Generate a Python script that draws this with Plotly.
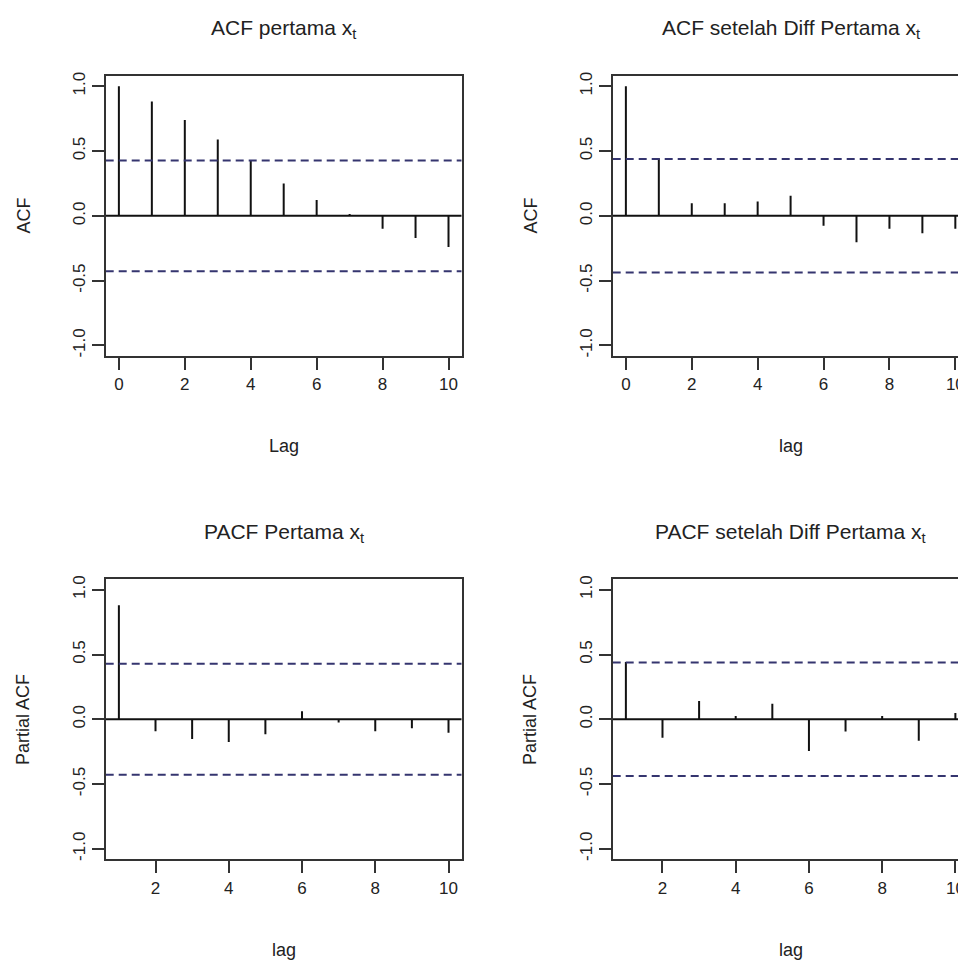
import plotly.graph_objects as go

# ---- data ----
lags_acf = [0, 1, 2, 3, 4, 5, 6, 7, 8, 9, 10]
lags_pacf = [1, 2, 3, 4, 5, 6, 7, 8, 9, 10]

acf_level = [1.0, 0.883, 0.740, 0.589, 0.425, 0.249, 0.123, 0.015, -0.100, -0.171, -0.240]
acf_diff = [1.0, 0.444, 0.097, 0.097, 0.110, 0.156, -0.077, -0.204, -0.100, -0.135, -0.100]
pacf_level = [0.880, -0.092, -0.152, -0.175, -0.115, 0.062, -0.025, -0.092, -0.069, -0.103]
pacf_diff = [0.443, -0.142, 0.141, 0.025, 0.120, -0.244, -0.095, 0.025, -0.165, 0.048]

ci_level = 0.428
ci_diff = 0.438

titles = ["ACF pertama x<sub>t</sub>", "ACF setelah Diff Pertama x<sub>t</sub>",
          "PACF Pertama x<sub>t</sub>", "PACF setelah Diff Pertama x<sub>t</sub>"]
xlabels = ["Lag", "lag", "lag", "lag"]
ylabels = ["ACF", "ACF", "Partial ACF", "Partial ACF"]
ytick_vals = [-1.0, -0.5, 0.0, 0.5, 1.0]
ytick_text = ["-1.0", "-0.5", "0.0", "0.5", "1.0"]
xtick_top = [0, 2, 4, 6, 8, 10]
xtick_bottom = [2, 4, 6, 8, 10]

# page is shifted by the default 8px body margin; work in page pixels
OFF = 8
PAGE_W, PAGE_H = 966, 960
W, H = PAGE_W - OFF, PAGE_H - OFF
FONT = "Liberation Sans Narrow, Liberation Sans, Arial, sans-serif"
AX = "#333333"
TXT = "#222222"


def px(x):
    return (x - OFF) / W


def py(y):
    return 1 - (y - OFF) / H


# panel boxes in page pixels: (left, right, top, bottom)
boxes = [
    (105.7, 461.7, 72.3, 354.0),
    (612.7, 966.0, 72.3, 354.0),
    (105.7, 461.7, 579.0, 860.6),
    (612.7, 966.0, 579.0, 860.6),
]
xranges = [[-0.4, 10.4], [-0.4, 10.324], [0.64, 10.36], [0.64, 10.29]]
panels = [
    (lags_acf, acf_level, ci_level, xtick_top),
    (lags_acf, acf_diff, ci_diff, xtick_top),
    (lags_pacf, pacf_level, ci_level, xtick_bottom),
    (lags_pacf, pacf_diff, ci_diff, xtick_bottom),
]

fig = go.Figure()
annotations = []
for i, ((lags, vals, ci, xt), (l, r, t, b), xr) in enumerate(zip(panels, boxes, xranges)):
    n = i + 1
    xa = "x" if n == 1 else f"x{n}"
    ya = "y" if n == 1 else f"y{n}"
    xs, ys = [], []
    for lg, v in zip(lags, vals):
        xs += [lg, lg, None]
        ys += [0, v, None]
    fig.add_trace(go.Scatter(x=xs, y=ys, mode="lines", line=dict(color="#111111", width=2),
                             xaxis=xa, yaxis=ya, showlegend=False, hoverinfo="skip"))
    xlo, xhi = xr
    fig.add_trace(go.Scatter(x=[xlo, xhi], y=[0, 0], mode="lines",
                             line=dict(color="#111111", width=2),
                             xaxis=xa, yaxis=ya, showlegend=False, hoverinfo="skip"))
    for s in (ci, -ci):
        fig.add_trace(go.Scatter(x=[xlo, xhi], y=[s, s], mode="lines",
                                 line=dict(color="#35356f", width=2, dash="8px,5px"),
                                 xaxis=xa, yaxis=ya, showlegend=False, hoverinfo="skip"))
    right_clipped = r >= PAGE_W
    fig.update_layout({
        ("xaxis" if n == 1 else f"xaxis{n}"): dict(
            domain=[px(l), min(px(r), 1.0)], range=xr, anchor=ya,
            tickvals=xt, ticktext=[str(v) for v in xt],
            ticks="outside", ticklen=12, tickwidth=1.5, tickcolor=AX,
            showline=True, linecolor=AX, linewidth=2, mirror=True,
            showgrid=False, zeroline=False,
            tickfont=dict(family=FONT, size=17, color=TXT),
        ),
        ("yaxis" if n == 1 else f"yaxis{n}"): dict(
            domain=[py(b), py(t)], range=[-1.08, 1.08], anchor=xa,
            tickvals=ytick_vals, ticktext=ytick_text, tickangle=-90,
            ticks="outside", ticklen=12, tickwidth=1.5, tickcolor=AX,
            showline=True, linecolor=AX, linewidth=2, mirror=not right_clipped,
            showgrid=False, zeroline=False,
            tickfont=dict(family=FONT, size=17, color=TXT),
        ),
    })
    cx = l + 178.0
    annotations.append(dict(text=titles[i], x=px(cx), y=py(t - 47),
                            xref="paper", yref="paper", showarrow=False,
                            xanchor="center", yanchor="middle",
                            font=dict(family=FONT, size=21, color=TXT)))
    annotations.append(dict(text=xlabels[i], x=px(cx), y=py(b + 91),
                            xref="paper", yref="paper", showarrow=False,
                            xanchor="center", yanchor="middle",
                            font=dict(family=FONT, size=18, color=TXT)))
    annotations.append(dict(text=ylabels[i], x=px(l - 82), y=py((t + b) / 2),
                            xref="paper", yref="paper", showarrow=False, textangle=-90,
                            xanchor="center", yanchor="middle",
                            font=dict(family=FONT, size=18, color=TXT)))

fig.update_layout(width=W, height=H, margin=dict(l=0, r=0, t=0, b=0),
                  paper_bgcolor="white", plot_bgcolor="white",
                  annotations=annotations, showlegend=False)

fig.write_html("out.html")
